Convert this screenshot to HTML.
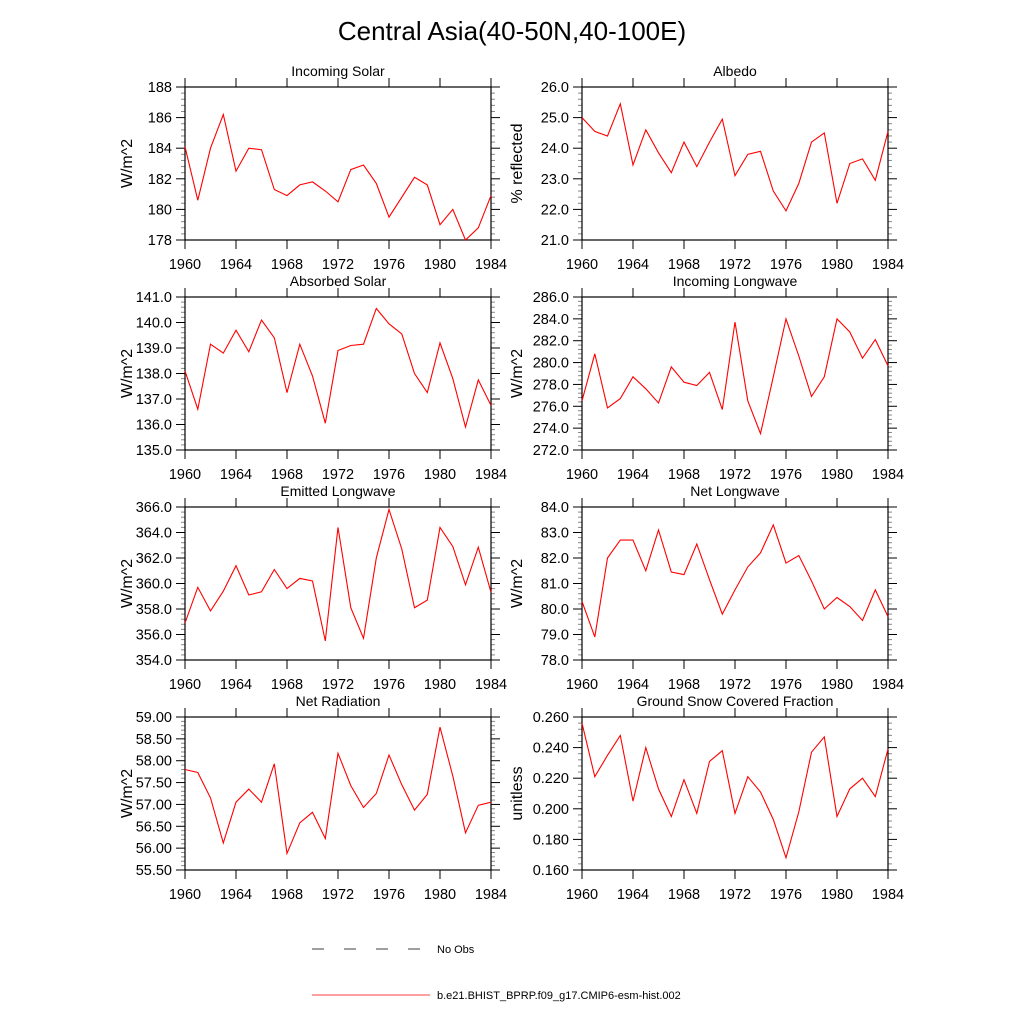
<!DOCTYPE html>
<html><head><meta charset="utf-8"><style>
body{margin:0;background:#fff}
svg{display:block;font-family:"Liberation Sans",sans-serif}
</style></head><body>
<svg id="c" width="1024" height="1024" viewBox="0 0 1024 1024">
<text x="512" y="40" text-anchor="middle" font-size="26">Central Asia(40-50N,40-100E)</text>
<g>
<line x1="312" y1="949" x2="420" y2="949" stroke="#000" stroke-width="0.8" stroke-dasharray="12,20"/>
<text x="437" y="953" font-size="11">No Obs</text>
<line x1="312" y1="995" x2="430" y2="995" stroke="#f00" stroke-width="0.8"/>
<text x="437" y="999" font-size="11">b.e21.BHIST_BPRP.f09_g17.CMIP6-esm-hist.002</text>
</g>
</svg>
<script>
const years=[1960,1961,1962,1963,1964,1965,1966,1967,1968,1969,1970,1971,1972,1973,1974,1975,1976,1977,1978,1979,1980,1981,1982,1983,1984];
const xTicks=[1960,1964,1968,1972,1976,1980,1984];
const incomingSolar=[184.1,180.6,184.0,186.2,182.5,184.0,183.9,181.3,180.9,181.6,181.8,181.2,180.5,182.6,182.9,181.7,179.5,180.8,182.1,181.6,179.0,180.0,178.0,178.8,180.9];
const albedo=[25.0,24.55,24.4,25.45,23.45,24.6,23.85,23.2,24.2,23.4,24.2,24.95,23.1,23.8,23.9,22.6,21.95,22.85,24.2,24.5,22.2,23.5,23.65,22.95,24.55];
const absorbedSolar=[138.1,136.6,139.15,138.8,139.7,138.85,140.1,139.4,137.25,139.15,137.9,136.05,138.9,139.1,139.15,140.55,139.95,139.55,138.0,137.25,139.2,137.8,135.9,137.75,136.75];
const incomingLW=[276.5,280.8,275.85,276.7,278.7,277.6,276.3,279.6,278.2,277.9,279.1,275.7,283.7,276.5,273.5,278.7,284.0,280.6,276.9,278.7,284.0,282.8,280.4,282.1,279.7];
const emittedLW=[356.9,359.7,357.85,359.4,361.4,359.1,359.35,361.1,359.6,360.4,360.2,355.5,364.4,358.1,355.7,362.0,365.8,362.7,358.1,358.7,364.4,362.9,359.9,362.85,359.3];
const netLW=[80.3,78.9,82.0,82.7,82.7,81.5,83.1,81.45,81.35,82.55,81.15,79.8,80.75,81.65,82.2,83.3,81.8,82.1,81.1,80.0,80.45,80.1,79.55,80.75,79.7];
const netRad=[57.8,57.73,57.15,56.12,57.05,57.35,57.05,57.93,55.88,56.58,56.82,56.22,58.17,57.43,56.93,57.25,58.13,57.45,56.87,57.23,58.77,57.65,56.35,56.98,57.05];
const snowFrac=[0.256,0.221,0.235,0.248,0.205,0.240,0.213,0.195,0.219,0.197,0.231,0.238,0.197,0.221,0.211,0.193,0.168,0.198,0.237,0.247,0.195,0.213,0.220,0.208,0.239];
const yTicksIS=[178,180,182,184,186,188];
const yTicksAlb=[21,22,23,24,25,26];
const yTicksAS=[135,136,137,138,139,140,141];
const yTicksILW=[272,274,276,278,280,282,284,286];
const yTicksELW=[354,356,358,360,362,364,366];
const yTicksNLW=[78,79,80,81,82,83,84];
const yTicksNR=[55.5,56,56.5,57,57.5,58,58.5,59];
const yTicksSnow=[0.16,0.18,0.2,0.22,0.24,0.26];

const NS='http://www.w3.org/2000/svg';
const svg=document.getElementById('c');
function mk(tag,attrs,parent){const e=document.createElementNS(NS,tag);for(const k in attrs)e.setAttribute(k,attrs[k]);(parent||svg).appendChild(e);return e;}
const cols=[185,582],rows=[87,297,507,717],W=306,H=153;
const panels=[
 ['incoming-solar','Incoming Solar','W/m^2',incomingSolar,yTicksIS,0],
 ['albedo','Albedo','% reflected',albedo,yTicksAlb,1],
 ['absorbed-solar','Absorbed Solar','W/m^2',absorbedSolar,yTicksAS,1],
 ['incoming-longwave','Incoming Longwave','W/m^2',incomingLW,yTicksILW,1],
 ['emitted-longwave','Emitted Longwave','W/m^2',emittedLW,yTicksELW,1],
 ['net-longwave','Net Longwave','W/m^2',netLW,yTicksNLW,1],
 ['net-radiation','Net Radiation','W/m^2',netRad,yTicksNR,2],
 ['snow-fraction','Ground Snow Covered Fraction','unitless',snowFrac,yTicksSnow,3]
];
panels.forEach((p,i)=>{
 const [id,title,ylab,vals,yt,dec]=p;
 const x0=cols[i%2],y0=rows[Math.floor(i/2)];
 const g=mk('g',{});
 
 
 const ymin=yt[0],ymax=yt[yt.length-1];
 const X=v=>x0+(v-1960)/24*W;
 const Y=v=>y0+H-(v-ymin)/(ymax-ymin)*H;
 // minor y ticks
 const step=yt[1]-yt[0];
 for(let k=0;k<yt.length-1;k++)for(let m=1;m<5;m++){const yy=Y(yt[k]+step*m/5);
  mk('line',{x1:x0-4,y1:yy,x2:x0,y2:yy,stroke:'#888','stroke-width':1},g);
  mk('line',{x1:x0+W,y1:yy,x2:x0+W+4,y2:yy,stroke:'#888','stroke-width':1},g);}
 for(let yr=1961;yr<1984;yr++){if((yr-1960)%4===0)continue;}
 yt.forEach(v=>{const yy=Y(v);
  mk('line',{x1:x0-9,y1:yy,x2:x0,y2:yy,stroke:'#000','stroke-width':1},g);
  mk('line',{x1:x0+W,y1:yy,x2:x0+W+9,y2:yy,stroke:'#000','stroke-width':1},g);
  const t=mk('text',{x:x0-13,y:yy+5,'text-anchor':'end','font-size':14.5},g);
  
  
  t.textContent=v.toFixed(dec);});
 xTicks.forEach(v=>{const xx=X(v);
  mk('line',{x1:xx,y1:y0-9,x2:xx,y2:y0,stroke:'#000','stroke-width':1},g);
  mk('line',{x1:xx,y1:y0+H,x2:xx,y2:y0+H+9,stroke:'#000','stroke-width':1},g);
  const t=mk('text',{x:xx,y:y0+H+29,'text-anchor':'middle','font-size':14.5},g);
  
  
  t.textContent=v;});
 mk('rect',{x:x0,y:y0,width:W,height:H,fill:'none',stroke:'#000','stroke-width':1.2},g);
 const d=vals.map((v,k)=>(k?'L':'M')+X(years[k]).toFixed(1)+','+Y(v).toFixed(1)).join('');
 const ln=mk('path',{d:d,fill:'none',stroke:'#f00','stroke-width':1.1},g);
 
 
 const tt=mk('text',{x:x0+W/2,y:y0-11,'text-anchor':'middle','font-size':14},g);
 
 
 tt.textContent=title;
 const lx=i%2?522:132,ly=y0+H/2;
 const yl=mk('text',{x:lx,y:ly,'text-anchor':'middle','font-size':16,transform:'rotate(-90 '+lx+' '+ly+')'},g);
 
 
 yl.textContent=ylab;
});
</script>
</body></html>
